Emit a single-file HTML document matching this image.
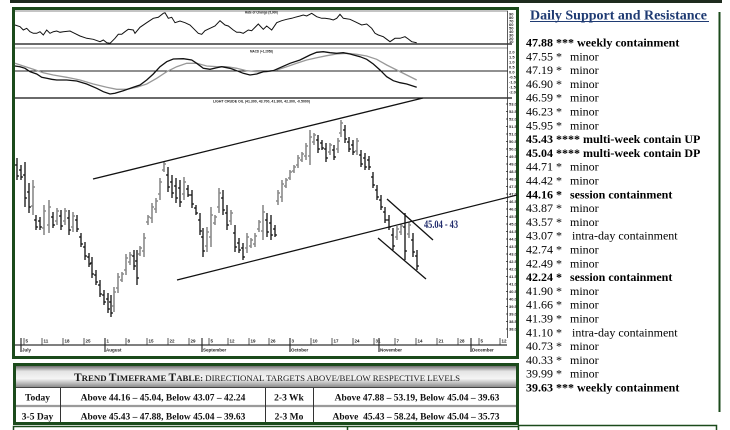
<!DOCTYPE html>
<html><head><meta charset="utf-8">
<style>
html,body{margin:0;padding:0;background:#fff;width:730px;height:430px;overflow:hidden}
svg{display:block}
.r{font-family:"Liberation Serif",serif;font-size:12px;fill:#000}
.b{font-weight:bold}
.t{font-family:"Liberation Sans",sans-serif;font-size:4px;font-weight:bold;fill:#222}
.d{font-family:"Liberation Sans",sans-serif;font-size:4.5px;font-weight:bold;fill:#222}
.tb{font-family:"Liberation Serif",serif;font-size:9.5px;font-weight:bold;fill:#111}
</style></head><body>
<svg width="730" height="430" viewBox="0 0 730 430" xmlns="http://www.w3.org/2000/svg">
<defs>
<linearGradient id="hg" x1="0" y1="0" x2="0" y2="1">
<stop offset="0" stop-color="#6e6e6e"/>
<stop offset="0.25" stop-color="#e4e4e4"/>
<stop offset="0.6" stop-color="#f5f5f5"/>
<stop offset="1" stop-color="#8c8c8c"/>
</linearGradient>
</defs>

<!-- top band -->
<rect x="10" y="0" width="712" height="3" fill="#1e2b1e"/>

<!-- chart frame -->
<rect x="13.5" y="8.5" width="504" height="349" fill="#fff" stroke="#1b4a1b" stroke-width="3"/>

<!-- panel lines -->
<line x1="15" y1="11" x2="508" y2="11" stroke="#888" stroke-width="1"/>
<line x1="15" y1="44" x2="512" y2="44" stroke="#111" stroke-width="1.3"/>
<line x1="15" y1="48" x2="508" y2="48" stroke="#999" stroke-width="1"/>
<line x1="15" y1="71" x2="508" y2="71" stroke="#222" stroke-width="1"/>
<line x1="15" y1="98" x2="512" y2="98" stroke="#111" stroke-width="1.3"/>
<line x1="507.5" y1="11" x2="507.5" y2="338" stroke="#333" stroke-width="0.8"/>

<!-- panel titles -->
<text class="t" x="245" y="13.5" textLength="33" lengthAdjust="spacingAndGlyphs">Rate of Change (5,000)</text>
<text class="t" x="250" y="52.5" textLength="23" lengthAdjust="spacingAndGlyphs">MACD (+1.2058)</text>
<text class="t" x="213" y="102.5" textLength="97" lengthAdjust="spacingAndGlyphs">LIGHT CRUDE OIL (41.300, 43.700, 41.300, 42.300, -0.5000)</text>

<!-- panel 1 series -->
<polyline fill="none" stroke="#111" stroke-width="1" points="15,25 20,26.7 23.3,30 26.7,28.3 30,31.7 33.3,33.3 36.7,33.3 40,31.7 43.3,35 46.7,30 50,33.3 53.3,31.7 56.7,31 60,32.3 63.3,31.7 70,31 73.3,32.7 80,36 86.7,38.3 93.3,39.3 100,41.7 103.3,40 106.7,42.7 110,43.3 115,38.3 118.3,34.3 121.7,34.3 125,31.7 128.3,29.3 133.3,30 135,33.3 140,27.3 146.7,22.7 153.3,18.3 158.3,17.3 163.3,13.3 165,12.7 168.3,18.3 171.7,17.3 175,22.7 180,21 185,22.7 190,25 193.3,28.3 198.3,33.3 201.7,34.3 205,30.7 210,28.3 215,26 220,20.7 225,25 228.3,26 233.3,30 236.7,32.3 240,32.3 243.3,33.3 248.3,30 251.7,30.7 258.3,24 263.3,29.3 266.7,26 271.7,30 276.7,22.7 281.7,20.7 286.7,19.3 291.7,18.3 295,17.3 300,16 303.3,15 306.7,16 311.7,13.3 316.7,16.7 321.7,18.3 325,18.3 330,19 333.3,20 336.7,18.3 340,14.3 343.3,18.3 350,19.3 355,21.7 361.7,25 366.7,24 371.7,28.3 375,33.3 378.3,35 383.3,36.7 390,41.7 395,38.3 400,38.3 405,36.7 408.3,39 411.7,41.7 416.7,42.7"/>

<!-- MACD gray -->
<polyline fill="none" stroke="#999" stroke-width="1.3" points="15,63.3 23.3,66 33.3,69.3 43.3,72.7 53.3,75 66.7,77.3 80,80 93.3,84 106.7,87.3 116.7,89.3 126.7,89.3 136.7,87.3 146.7,84 156.7,78.3 166.7,71.7 176.7,66.7 186.7,63.3 196.7,63.3 206.7,66 216.7,66.7 226.7,66.7 236.7,68.3 246.7,70.7 256.7,71.7 266.7,71.7 276.7,70 286.7,66.7 296.7,63.3 306.7,60 316.7,57.7 326.7,55.7 336.7,54 346.7,53.3 356.7,54.3 366.7,56 376.7,59.3 386.7,65 396.7,70 406.7,75 416.7,80"/>
<!-- MACD black -->
<polyline fill="none" stroke="#111" stroke-width="1.3" points="15,66 20,66.7 25,68.3 30,71.7 36.7,74 41.7,77.3 46.7,78.3 51.7,79.3 56.7,80 66.7,80 76.7,81 86.7,84 96.7,88.3 103.3,91.7 110,94 115,93.3 123.3,90.7 133.3,87.3 140,85 146.7,80 153.3,74 160,66.7 166.7,61.7 173.3,59 183.3,58.7 191.7,60 196.7,63.3 203.3,68.3 210,69.3 216.7,67.7 221.7,66.7 230,68.3 236.7,70.7 243.3,73.3 250,75 256.7,74 263.3,71.7 273.3,70.7 280,67.7 290,63.3 300,60 310,55 316.7,52.3 323.3,51.7 330,52.7 336.7,53.3 343.3,52.7 350,54 360,56.7 366.7,59.3 373.3,64 380,70 386.7,76.7 393.3,80.7 400,82.7 406.7,84 416.7,87.3"/>

<!-- axis labels panel 1 -->
<g class="t">
<text x="509" y="15.5">90</text><text x="509" y="19">80</text><text x="509" y="22.5">70</text><text x="509" y="26">60</text><text x="509" y="29.5">50</text><text x="509" y="33">40</text><text x="509" y="36.5">30</text><text x="509" y="40">20</text><text x="509" y="43">10</text>
<text x="509" y="53.5">2.0</text><text x="509" y="58.5">1.5</text><text x="509" y="63.5">1.0</text><text x="509" y="68.5">0.5</text><text x="509" y="73.5">0.0</text><text x="509" y="78.5">-0.5</text><text x="509" y="83.5">-1.0</text><text x="509" y="88.5">-1.5</text><text x="509" y="93.5">-2.0</text>
</g>

<!-- price axis labels -->
<path d="M506 104h2M506 111.5h2M506 119h2M506 126.5h2M506 134h2M506 141.5h2M506 149h2M506 156.5h2M506 164h2M506 171.5h2M506 179h2M506 186.5h2M506 194h2M506 201.5h2M506 209h2M506 216.5h2M506 224h2M506 231.5h2M506 239h2M506 246.5h2M506 254h2M506 261.5h2M506 269h2M506 276.5h2M506 284h2M506 291.5h2M506 299h2M506 306.5h2M506 314h2M506 321.5h2M506 329h2" stroke="#222" stroke-width="0.8"/>
<g class="t">
<text x="509" y="105.5">53.0</text><text x="509" y="113">52.5</text><text x="509" y="120.5">52.0</text><text x="509" y="128">51.5</text><text x="509" y="135.5">51.0</text><text x="509" y="143">50.5</text><text x="509" y="150.5">50.0</text><text x="509" y="158">49.5</text><text x="509" y="165.5">49.0</text><text x="509" y="173">48.5</text><text x="509" y="180.5">48.0</text><text x="509" y="188">47.5</text><text x="509" y="195.5">47.0</text><text x="509" y="203">46.5</text><text x="509" y="210.5">46.0</text><text x="509" y="218">45.5</text><text x="509" y="225.5">45.0</text><text x="509" y="233">44.5</text><text x="509" y="240.5">44.0</text><text x="509" y="248">43.5</text><text x="509" y="255.5">43.0</text><text x="509" y="263">42.5</text><text x="509" y="270.5">42.0</text><text x="509" y="278">41.5</text><text x="509" y="285.5">41.0</text><text x="509" y="293">40.5</text><text x="509" y="300.5">40.0</text><text x="509" y="308">39.5</text><text x="509" y="315.5">39.0</text><text x="509" y="323">38.5</text><text x="509" y="330.5">38.0</text>
</g>

<!-- price bars gray -->
<path fill="none" stroke="#8a8a8a" stroke-width="1.6" d="M33 180V215M31 206h2M33 187h2M44 205V235M42 228h2M44 211h2M49 200V233M47 225h2M49 207h2M57 208V225M55 221h2M57 211h2M65 208V225M63 221h2M65 211h2M73 212V232M71 227h2M73 216h2M114 287V312M112 306h2M114 292h2M118 273V293M116 288h2M118 277h2M122 272V282M120 280h2M122 274h2M126 254V275M124 270h2M126 258h2M130 252V265M128 262h2M130 255h2M140 246V256M138 254h2M140 248h2M144 233V257M142 251h2M144 238h2M148 215V225M146 222h2M148 217h2M152 203V223M150 218h2M152 207h2M156 198V213M154 209h2M156 201h2M160 178V200M158 194h2M160 182h2M164 162V172M162 170h2M164 164h2M184 177V200M182 194h2M184 182h2M207 227V252M205 246h2M207 232h2M211 207V247M209 237h2M211 215h2M215 215V225M213 223h2M215 217h2M219 188V213M217 207h2M219 193h2M231 210V225M229 221h2M231 213h2M247 233V253M245 248h2M247 237h2M251 238V248M249 246h2M251 240h2M255 233V247M253 244h2M255 236h2M259 220V232M257 229h2M259 222h2M263 205V240M261 231h2M263 212h2M278 190V205M276 201h2M278 193h2M282 180V202M280 197h2M282 184h2M286 178V188M284 186h2M286 180h2M290 170V180M288 178h2M290 172h2M294 165V173M292 171h2M294 167h2M298 155V168M296 165h2M298 158h2M302 152V162M300 160h2M302 154h2M306 143V160M304 156h2M306 146h2M310 130V165M308 156h2M310 137h2M314 133V145M312 142h2M314 135h2M330 143V155M328 152h2M330 145h2M338 138V153M336 149h2M338 141h2M341 120V137M339 133h2M341 123h2M357 138V155M355 151h2M357 141h2M397 226V240M395 237h2M397 229h2M401 224V235M399 232h2M401 226h2M409 222V238M407 234h2M409 225h2"/>
<!-- price bars black -->
<path fill="none" stroke="#111" stroke-width="1.3" d="M17 158V180M15 165h2M17 176h2M21 165V180M19 170h2M21 177h2M25 162V207M23 175h2M25 198h2M29 183V213M27 192h2M29 207h2M36 215V230M34 220h2M36 227h2M40 217V230M38 221h2M40 227h2M53 212V228M51 217h2M53 225h2M61 210V230M59 216h2M61 226h2M69 210V235M67 218h2M69 230h2M77 215V232M75 220h2M77 229h2M81 233V247M79 237h2M81 244h2M85 242V260M83 247h2M85 256h2M89 253V267M87 257h2M89 264h2M92 257V278M90 263h2M92 274h2M96 270V285M94 275h2M96 282h2M100 280V297M98 285h2M100 294h2M104 290V305M102 295h2M104 302h2M108 293V313M106 299h2M108 309h2M111 295V317M109 302h2M111 313h2M134 250V270M132 256h2M134 266h2M137 250V285M135 261h2M137 278h2M168 167V192M166 175h2M168 187h2M172 175V198M170 182h2M172 193h2M176 178V203M174 186h2M176 198h2M180 180V207M178 188h2M180 202h2M188 185V197M186 189h2M188 195h2M192 190V208M190 195h2M192 204h2M196 205V215M194 208h2M196 213h2M200 213V235M198 220h2M200 231h2M203 228V257M201 237h2M203 251h2M223 190V215M221 198h2M223 210h2M227 205V230M225 213h2M227 225h2M235 225V252M233 233h2M235 247h2M239 238V253M237 243h2M239 250h2M243 243V260M241 248h2M243 257h2M267 213V237M265 220h2M267 232h2M271 215V240M269 223h2M271 235h2M275 225V237M273 229h2M275 235h2M318 135V153M316 140h2M318 149h2M322 140V150M320 143h2M322 148h2M326 143V162M324 149h2M326 158h2M334 145V160M332 150h2M334 157h2M345 125V143M343 130h2M345 139h2M349 137V152M347 142h2M349 149h2M353 140V155M351 145h2M353 152h2M361 150V167M359 155h2M361 164h2M365 153V170M363 158h2M365 167h2M369 156V170M367 160h2M369 167h2M373 172V188M371 177h2M373 185h2M377 185V200M375 190h2M377 197h2M381 195V210M379 200h2M381 207h2M385 207V223M383 212h2M385 220h2M389 215V230M387 220h2M389 227h2M393 228V250M391 235h2M393 246h2M405 213V260M403 227h2M405 251h2M413 233V257M411 240h2M413 252h2M417 250V270M415 256h2M417 266h2"/>

<!-- trendlines -->
<g stroke="#111" stroke-width="1.3" fill="none">
<line x1="93" y1="179" x2="423" y2="98"/>
<line x1="177" y1="280" x2="517" y2="195"/>
<line x1="387" y1="199" x2="433" y2="240"/>
<line x1="378" y1="238" x2="426" y2="279"/>
</g>
<text x="424" y="228" font-family="Liberation Serif,serif" font-size="12" font-weight="bold" fill="#1f2a6b" textLength="34" lengthAdjust="spacingAndGlyphs">45.04 - 43</text>

<!-- date axis -->
<line x1="15" y1="345" x2="507" y2="345" stroke="#555" stroke-width="1.5"/>
<path d="M24 338V345M42 338V345M63 338V345M84 338V345M105 338V345M126 338V345M147 338V345M168 338V345M189 338V345M209 338V345M228 338V345M249 338V345M269 338V345M290 338V345M311 338V345M332 338V345M353 338V345M374 338V345M395 338V345M416 338V345M437 338V345M458 338V345M479 338V345M500 338V345" stroke="#333" stroke-width="0.8"/>
<path d="M21 338V352M105 338V352M202 338V352M290 338V352M379 338V352M471 338V352" stroke="#222" stroke-width="1.1"/>
<g class="d">
<text x="25.5" y="342.5">5</text><text x="43.5" y="342.5">11</text><text x="64.5" y="342.5">18</text><text x="85.5" y="342.5">25</text><text x="106.5" y="342.5">1</text><text x="127.5" y="342.5">8</text><text x="148.5" y="342.5">15</text><text x="169.5" y="342.5">22</text><text x="190.5" y="342.5">29</text><text x="210.5" y="342.5">5</text><text x="229.5" y="342.5">12</text><text x="250.5" y="342.5">19</text><text x="270.5" y="342.5">26</text><text x="291.5" y="342.5">3</text><text x="312.5" y="342.5">10</text><text x="333.5" y="342.5">17</text><text x="354.5" y="342.5">24</text><text x="375.5" y="342.5">31</text><text x="396.5" y="342.5">7</text><text x="417.5" y="342.5">14</text><text x="438.5" y="342.5">21</text><text x="459.5" y="342.5">28</text><text x="480.5" y="342.5">5</text><text x="501.5" y="342.5">12</text>
<text x="22" y="351.5">July</text><text x="106" y="351.5">August</text><text x="203" y="351.5">September</text><text x="291" y="351.5">October</text><text x="380" y="351.5">November</text><text x="472" y="351.5">December</text>
</g>

<!-- right panel -->
<text x="530" y="19.5" font-family="Liberation Serif,serif" font-size="14" font-weight="bold" fill="#1f3b73">Daily Support and Resistance</text>
<line x1="530" y1="21.5" x2="709" y2="21.5" stroke="#1f3b73" stroke-width="1"/>
<line x1="719.5" y1="12" x2="719.5" y2="412" stroke="#1b4a1b" stroke-width="2"/>

<text class="r b" x="526" y="46.5">47.88 *** weekly containment</text>
<text class="r" x="526" y="60.3">47.55 *</text><text class="r" x="570" y="60.3">minor</text>
<text class="r" x="526" y="74.1">47.19 *</text><text class="r" x="570" y="74.1">minor</text>
<text class="r" x="526" y="87.9">46.90 *</text><text class="r" x="570" y="87.9">minor</text>
<text class="r" x="526" y="101.7">46.59 *</text><text class="r" x="570" y="101.7">minor</text>
<text class="r" x="526" y="115.5">46.23 *</text><text class="r" x="570" y="115.5">minor</text>
<text class="r" x="526" y="129.3">45.95 *</text><text class="r" x="570" y="129.3">minor</text>
<text class="r b" x="526" y="143.1">45.43 **** multi-week contain UP</text>
<text class="r b" x="526" y="156.9">45.04 **** multi-week contain DP</text>
<text class="r" x="526" y="170.7">44.71 *</text><text class="r" x="570" y="170.7">minor</text>
<text class="r" x="526" y="184.5">44.42 *</text><text class="r" x="570" y="184.5">minor</text>
<text class="r b" x="526" y="198.3">44.16 *</text><text class="r b" x="570" y="198.3">session containment</text>
<text class="r" x="526" y="212.1">43.87 *</text><text class="r" x="570" y="212.1">minor</text>
<text class="r" x="526" y="225.9">43.57 *</text><text class="r" x="570" y="225.9">minor</text>
<text class="r" x="526" y="239.7">43.07 *</text><text class="r" x="572" y="239.7">intra-day containment</text>
<text class="r" x="526" y="253.5">42.74 *</text><text class="r" x="570" y="253.5">minor</text>
<text class="r" x="526" y="267.3">42.49 *</text><text class="r" x="570" y="267.3">minor</text>
<text class="r b" x="526" y="281.1">42.24 *</text><text class="r b" x="570" y="281.1">session containment</text>
<text class="r" x="526" y="294.9">41.90 *</text><text class="r" x="570" y="294.9">minor</text>
<text class="r" x="526" y="308.7">41.66 *</text><text class="r" x="570" y="308.7">minor</text>
<text class="r" x="526" y="322.5">41.39 *</text><text class="r" x="570" y="322.5">minor</text>
<text class="r" x="526" y="336.3">41.10 *</text><text class="r" x="572" y="336.3">intra-day containment</text>
<text class="r" x="526" y="350.1">40.73 *</text><text class="r" x="570" y="350.1">minor</text>
<text class="r" x="526" y="363.9">40.33 *</text><text class="r" x="570" y="363.9">minor</text>
<text class="r" x="526" y="377.7">39.99 *</text><text class="r" x="570" y="377.7">minor</text>
<text class="r b" x="526" y="391.5">39.63 *** weekly containment</text>

<!-- table -->
<rect x="14.5" y="364.5" width="503" height="59" fill="#fff" stroke="#1b4a1b" stroke-width="3"/>
<rect x="16" y="366" width="500" height="21" fill="url(#hg)"/>
<line x1="16" y1="387.5" x2="516" y2="387.5" stroke="#444" stroke-width="1"/>
<line x1="16" y1="406" x2="516" y2="406" stroke="#9a9a9a" stroke-width="2.2"/>
<path d="M60.5 388V422M265.5 388V422M313.5 388V422" stroke="#333" stroke-width="1"/>
<text x="267" y="381" text-anchor="middle" font-family="Liberation Serif,serif" fill="#1a1a1a"><tspan font-weight="bold" font-size="11.5">T</tspan><tspan font-weight="bold" font-size="8.8">REND </tspan><tspan font-weight="bold" font-size="11.5">T</tspan><tspan font-weight="bold" font-size="8.8">IMEFRAME </tspan><tspan font-weight="bold" font-size="11.5">T</tspan><tspan font-weight="bold" font-size="8.8">ABLE:</tspan><tspan font-size="8.8"> DIRECTIONAL TARGETS ABOVE/BELOW RESPECTIVE LEVELS</tspan></text>
<text class="tb" x="37.5" y="400.5" text-anchor="middle">Today</text>
<text class="tb" x="163" y="400.5" text-anchor="middle">Above 44.16 – 45.04, Below 43.07 – 42.24</text>
<text class="tb" x="289" y="400.5" text-anchor="middle">2-3 Wk</text>
<text class="tb" x="417" y="400.5" text-anchor="middle">Above 47.88 – 53.19, Below 45.04 – 39.63</text>
<text class="tb" x="37.5" y="419.5" text-anchor="middle">3-5 Day</text>
<text class="tb" x="163" y="419.5" text-anchor="middle">Above 45.43 – 47.88, Below 45.04 – 39.63</text>
<text class="tb" x="289" y="419.5" text-anchor="middle">2-3 Mo</text>
<text class="tb" x="416" y="419.5" text-anchor="middle" xml:space="preserve">Above  45.43 – 58.24, Below 45.04 – 35.73</text>

<!-- bottom boxes -->
<path d="M13.5 430V426.5H347.5V430M347.5 426.5H519" fill="none" stroke="#1b4a1b" stroke-width="1.5"/>
<path d="M518.5 430V425.5H716.5V430" fill="none" stroke="#1b4a1b" stroke-width="1.5"/>
</svg>
</body></html>
